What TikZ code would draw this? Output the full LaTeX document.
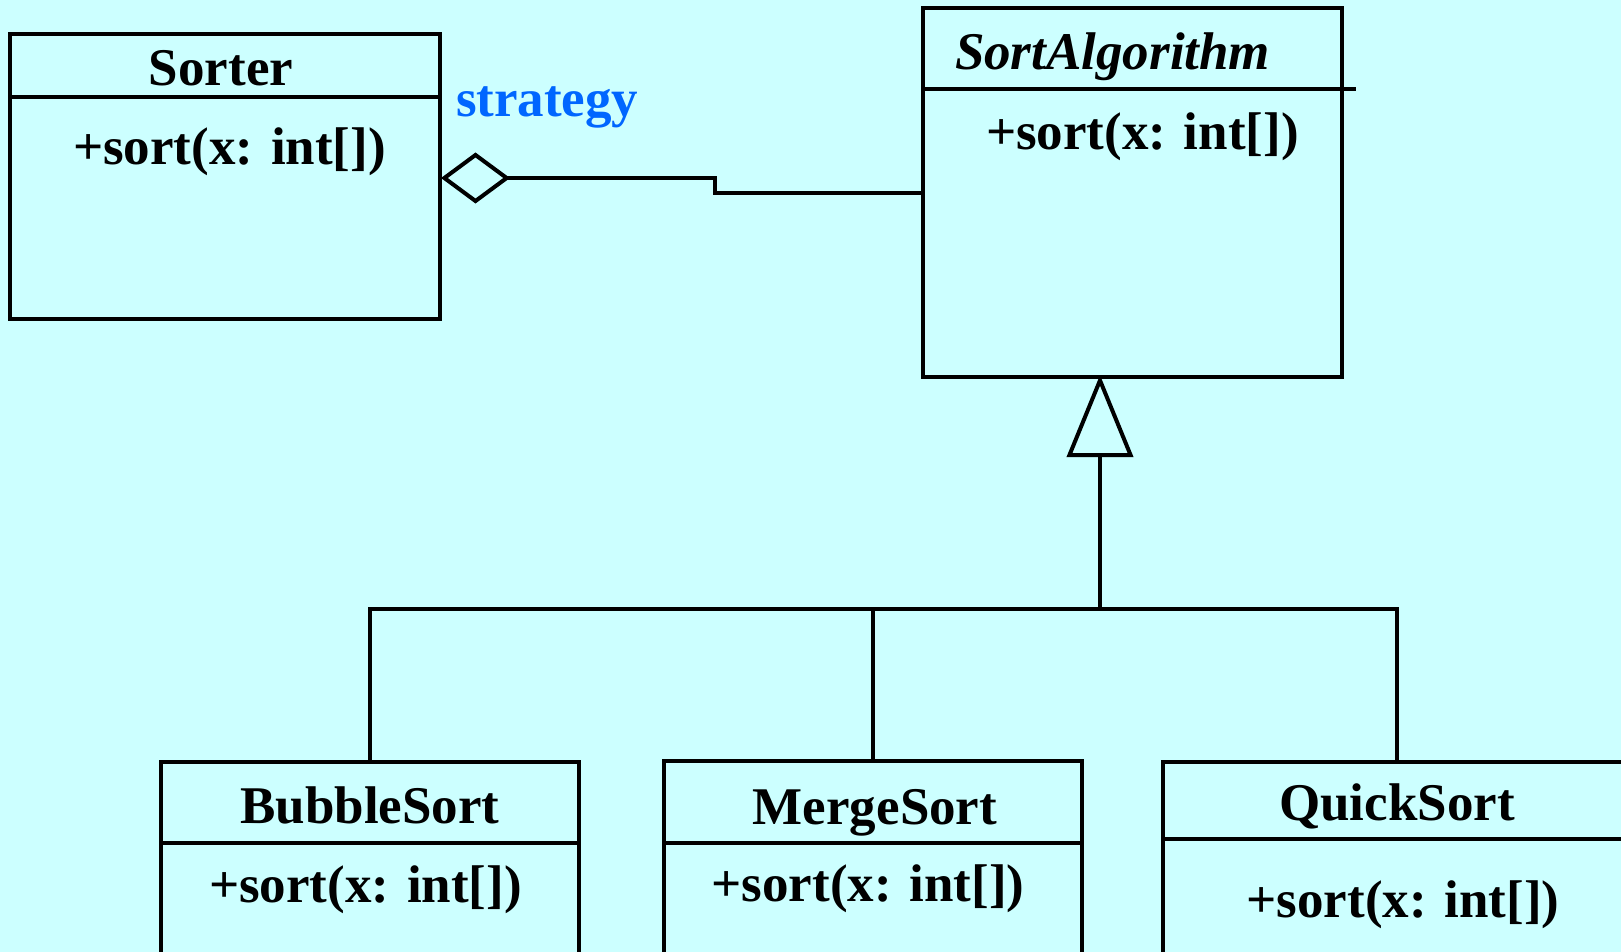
\documentclass[tikz,border=0pt]{standalone}
\usepackage{fontspec}
\setmainfont{Liberation Serif}
\usetikzlibrary{arrows.meta,calc}
\definecolor{bgcyan}{HTML}{CCFFFF}
\definecolor{stratblue}{RGB}{0,102,255}
\begin{document}
\begin{tikzpicture}[x=1pt,y=-1pt,
  ln/.style={line width=4pt,line join=miter},
  classbox/.style={draw,ln,rectangle,inner sep=0pt,outer sep=0pt,anchor=north west},
  lbl/.style={inner sep=0pt,outer sep=0pt,font=\fontsize{53}{60}\selectfont\bfseries},
  aggr/.style={ln,{Diamond[open,length=69pt,width=51pt,line width=4pt]}-},
  gen/.style={ln,-{Triangle[open,length=82pt,width=66pt,line width=4pt]}}]
\useasboundingbox (0,0) rectangle (1621,952);
\fill[bgcyan] (0,0) rectangle (1621,952);
\clip (0,0) rectangle (1621,952);
% class boxes
\node[classbox,minimum width=430pt,minimum height=285pt] (sorter) at (10,34) {};
\node[classbox,minimum width=419pt,minimum height=369pt] (sa) at (923,8) {};
\node[classbox,minimum width=418pt,minimum height=250pt] (bubble) at (161,762) {};
\node[classbox,minimum width=418pt,minimum height=250pt] (merge) at (664,761) {};
\node[classbox,minimum width=468pt,minimum height=250pt] (quick) at (1163,762) {};
% dividers
\draw[ln] ($(sorter.north west)+(0,63)$) -- ($(sorter.north east)+(0,63)$);
\draw[ln] ($(sa.north west)+(0,81)$) -- ($(sa.north east)+(14,81)$);
\draw[ln] ($(bubble.north west)+(0,81)$) -- ($(bubble.north east)+(0,81)$);
\draw[ln] ($(merge.north west)+(0,82)$) -- ($(merge.north east)+(0,82)$);
\draw[ln] ($(quick.north west)+(0,77)$) -- ($(quick.north east)+(0,77)$);
% texts
\node[lbl,anchor=base] (sorterT) at (221,86) {Sorter};
\node[lbl,anchor=base] (sorterO) at (229.5,165) {+sort(x: int[])};
\node[lbl,anchor=base west,text=stratblue] (strat) at (456,117) {strategy};
\node[lbl,anchor=base west] (saT) at (955,70) {\itshape SortAlgorithm};
\node[lbl,anchor=base west] (saO) at (986,150) {+sort(x: int[])};
\node[lbl,anchor=base] (bubbleT) at (370,823) {BubbleSort};
\node[lbl,anchor=base] (bubbleO) at (365.5,902) {+sort(x: int[])};
\node[lbl,anchor=base] (mergeT) at (875,824) {MergeSort};
\node[lbl,anchor=base] (mergeO) at (868,901) {+sort(x: int[])};
\node[lbl,anchor=base] (quickT) at (1397,820) {QuickSort};
\node[lbl,anchor=base] (quickO) at (1403,917) {+sort(x: int[])};
% aggregation
\coordinate (bend1) at (715,178);
\coordinate (bend2) at (715,193);
\draw[aggr] ($(sorter.east)+(1,1.5)$) -- (bend1) -- (bend2) -- (sa.west |- bend2);
% generalization
\coordinate (junc) at (1100,609);
\draw[gen] (junc) -- ($(sa.south -| junc)+(0,-2)$);
\draw[ln] (bubble.north) |- (junc);
\draw[ln] (merge.north) |- (junc);
\draw[ln] (quick.north) |- (junc);
\end{tikzpicture}
\end{document}
